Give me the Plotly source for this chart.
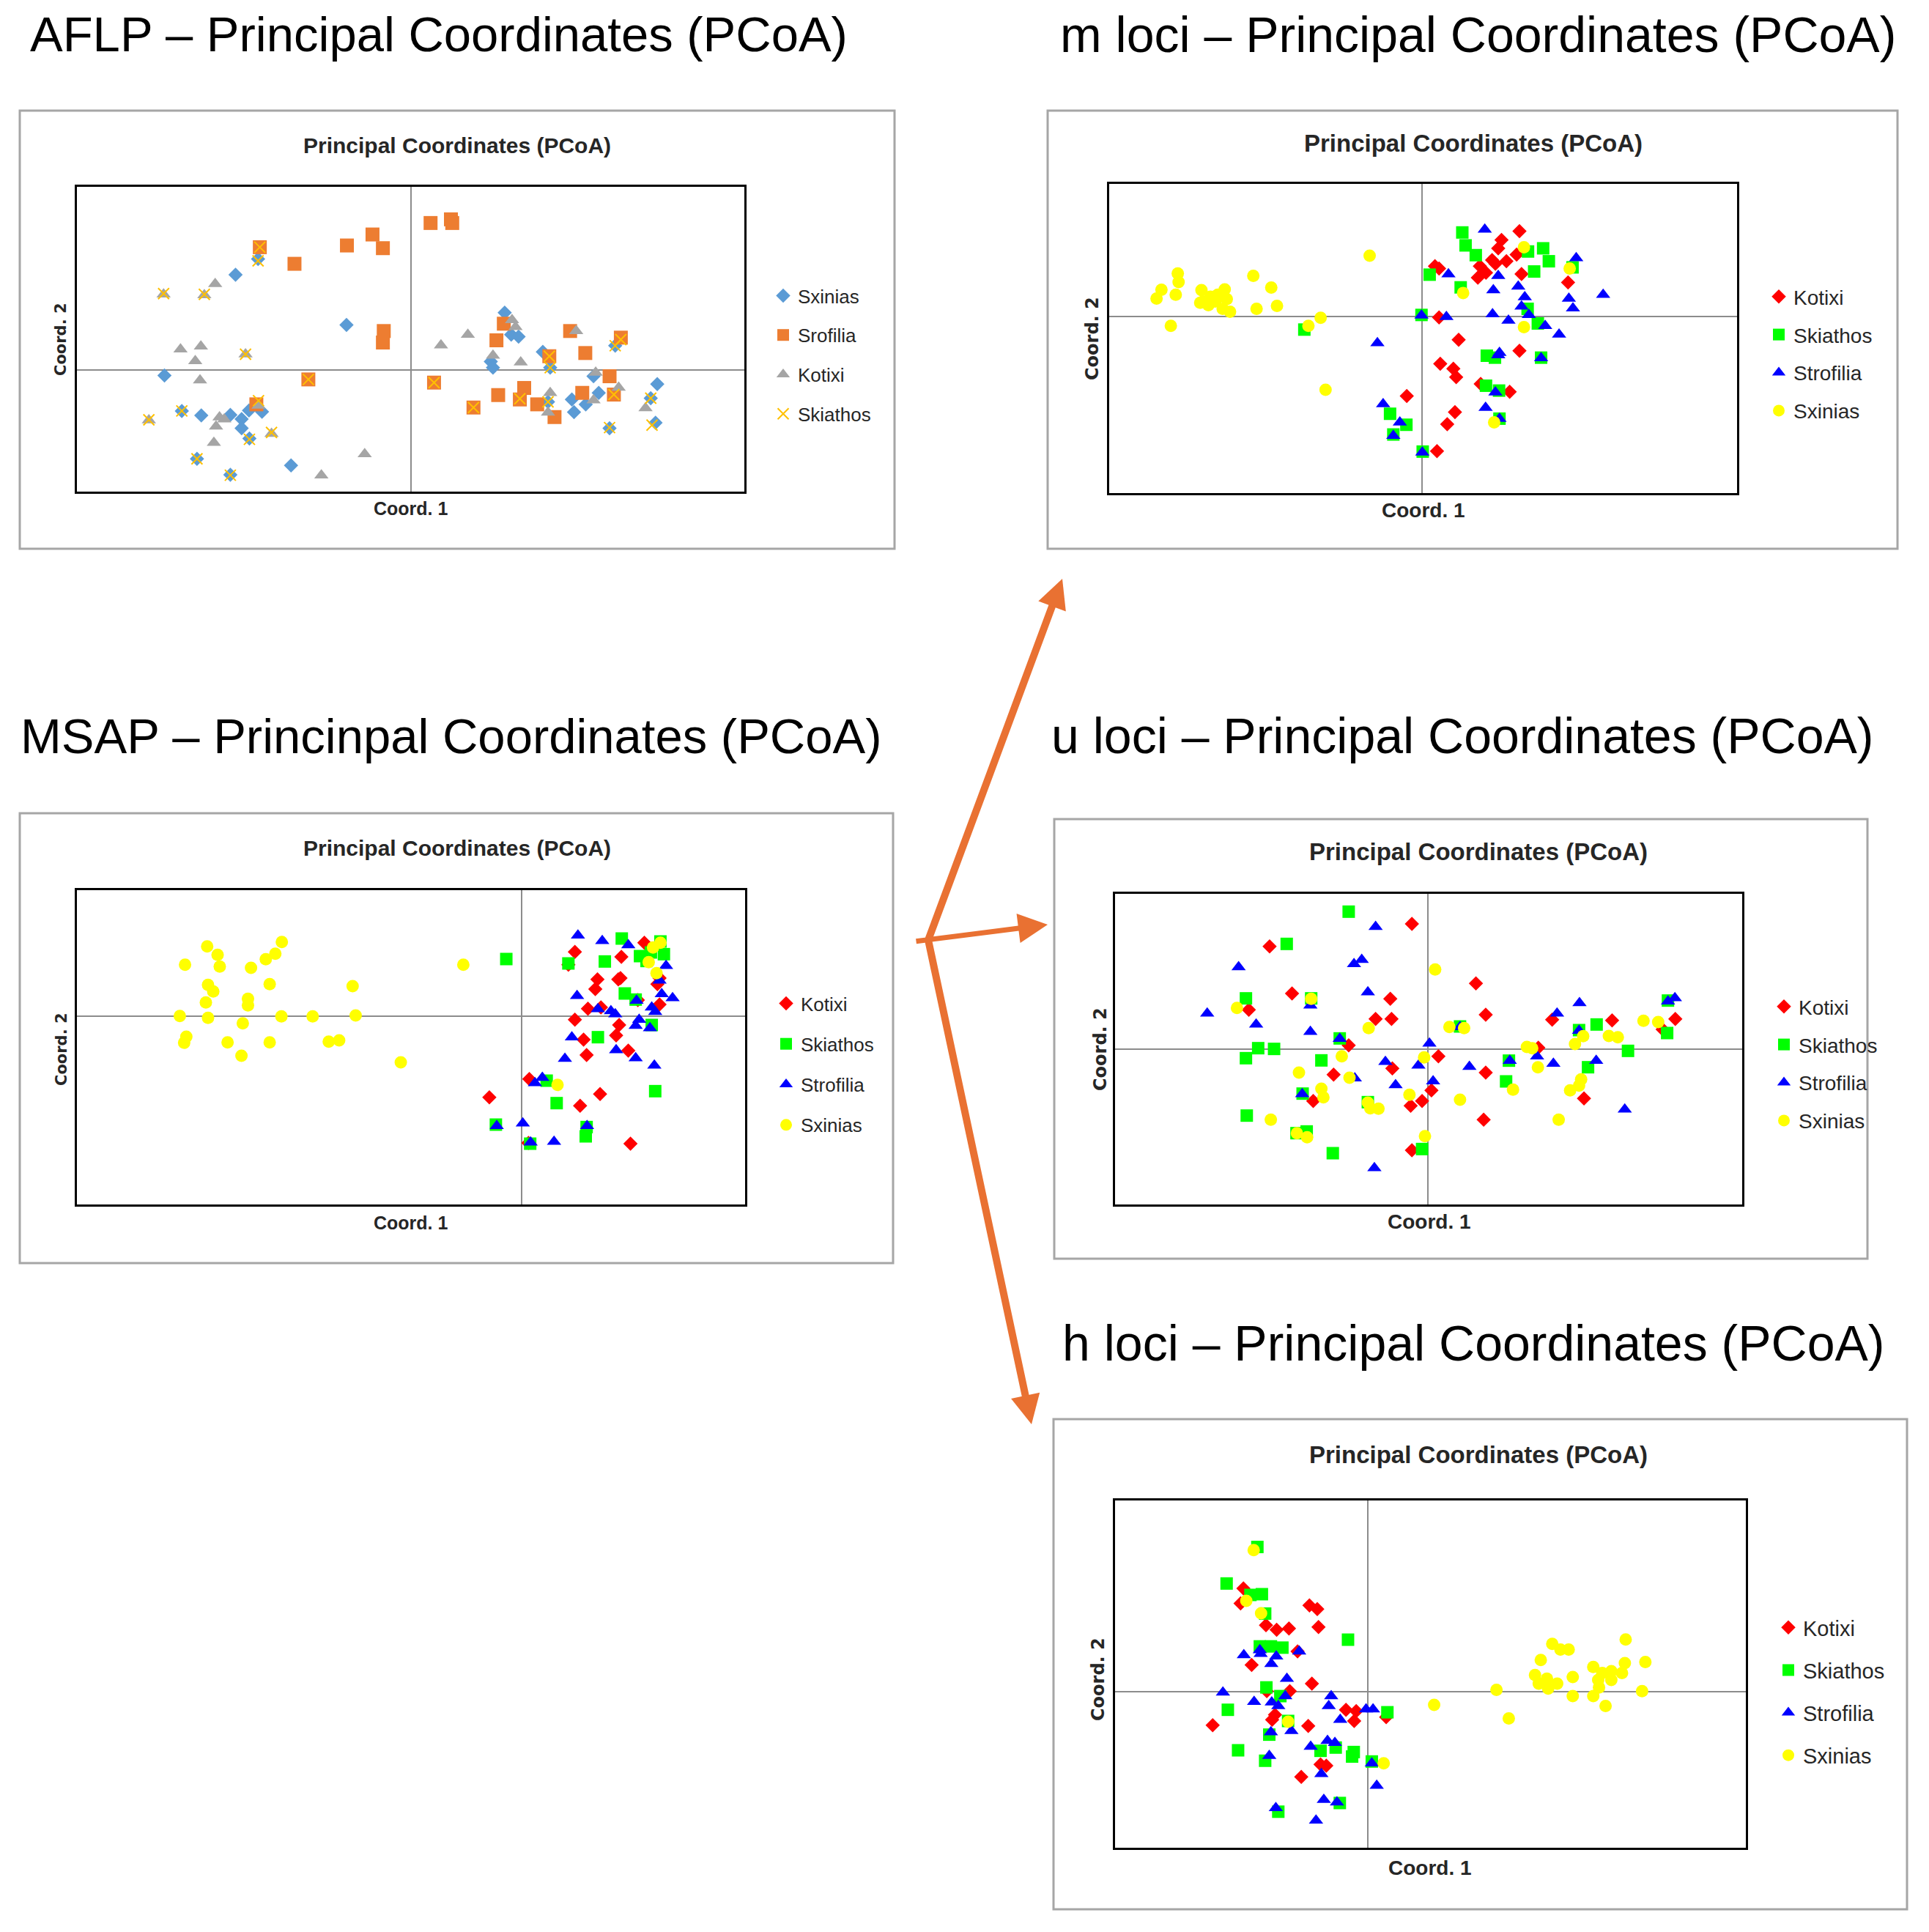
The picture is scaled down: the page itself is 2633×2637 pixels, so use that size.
import plotly.graph_objects as go

W, H = 2633, 2637

# ======================= DATA (Coord. 1, Coord. 2) =======================
# ---- AFLP ----
aflp_sxinias = [(-0.352,0.455),(-0.404,0.390),(-0.148,0.185),(-0.568,-0.022),(-0.528,-0.167),(-0.483,-0.185),
    (-0.416,-0.183),(-0.390,-0.200),(-0.373,-0.165),(-0.343,-0.170),(-0.390,-0.238),(-0.372,-0.280),(-0.493,-0.363),
    (-0.416,-0.428),(-0.276,-0.390),(0.217,0.235),(0.232,0.145),(0.249,0.137),(0.305,0.075),(0.185,0.035),(0.190,0.010),
    (0.322,0.010),(0.422,-0.025),(0.434,-0.093),(0.372,-0.120),(0.317,-0.130),(0.377,-0.172),(0.404,-0.140),(0.472,0.100),
    (0.569,-0.057),(0.554,-0.115),(0.565,-0.215),(0.459,-0.238)]
aflp_srofilia = [(0.046,0.602),(0.093,0.617),(0.096,0.602),(-0.088,0.555),(-0.064,0.499),(-0.147,0.510),(-0.348,0.503),
    (-0.268,0.435),(-0.062,0.160),(-0.064,0.113),(-0.236,-0.038),(-0.356,-0.140),(0.054,-0.051),(0.145,-0.153),(0.202,-0.102),
    (0.215,0.190),(0.198,0.122),(0.368,0.160),(0.485,0.133),(0.320,0.057),(0.403,0.070),(0.459,-0.025),(0.262,-0.073),
    (0.252,-0.120),(0.292,-0.140),(0.332,-0.192),(0.396,-0.093),(0.469,-0.100)]
aflp_kotixi = [(-0.570,0.310),(-0.476,0.307),(-0.451,0.353),(-0.531,0.085),(-0.484,0.097),(-0.497,0.037),(-0.381,0.065),
    (-0.486,-0.041),(-0.604,-0.205),(-0.441,-0.193),(-0.430,-0.201),(-0.449,-0.230),(-0.351,-0.145),(-0.321,-0.260),
    (-0.454,-0.297),(-0.106,-0.343),(-0.206,-0.430),(0.070,0.102),(0.132,0.145),(0.234,0.205),(0.242,0.177),(0.190,0.060),
    (0.254,0.032),(0.382,0.160),(0.427,-0.010),(0.322,-0.093),(0.317,-0.173),(0.422,-0.123),(0.480,-0.071),(0.542,-0.155)]
aflp_skiathos = [(-0.348,0.503),(-0.352,0.447),(-0.570,0.313),(-0.476,0.310),(-0.381,0.065),(-0.236,-0.038),(-0.528,-0.167),
    (-0.604,-0.203),(-0.351,-0.125),(-0.372,-0.283),(-0.321,-0.255),(-0.493,-0.363),(-0.416,-0.430),(0.054,-0.051),
    (0.145,-0.153),(0.252,-0.117),(0.320,0.057),(0.322,0.010),(0.317,-0.130),(0.469,-0.100),(0.485,0.125),(0.472,0.100),
    (0.554,-0.115),(0.557,-0.225),(0.459,-0.235)]

# ---- m loci ----
m_kotixi = [(0.238,0.348),(0.194,0.312),(0.186,0.278),(0.231,0.252),(0.171,0.230),(0.206,0.225),(0.179,0.215),(0.141,0.205),
    (0.156,0.178),(0.136,0.158),(0.031,0.205),(0.041,0.195),(0.243,0.173),(0.357,0.138),(0.041,-0.005),(0.089,-0.097),
    (0.238,-0.142),(0.044,-0.195),(0.076,-0.215),(0.083,-0.250),(0.143,-0.278),(0.214,-0.310),(-0.038,-0.327),(0.080,-0.393),
    (0.061,-0.443),(0.036,-0.553)]
m_skiathos = [(0.098,0.343),(0.106,0.290),(0.131,0.250),(0.296,0.278),(0.259,0.265),(0.310,0.225),(0.274,0.183),(0.368,0.200),
    (0.018,0.170),(0.094,0.118),(-0.002,0.005),(0.258,0.030),(0.283,-0.030),(-0.289,-0.055),(0.158,-0.162),(0.178,-0.170),
    (0.291,-0.170),(0.156,-0.285),(0.188,-0.305),(0.189,-0.420),(-0.079,-0.400),(-0.039,-0.445),(-0.071,-0.485),(0.001,-0.555)]
m_strofilia = [(0.153,0.355),(0.377,0.238),(0.064,0.172),(0.186,0.165),(0.174,0.107),(0.235,0.122),(0.251,0.078),(0.243,0.040),
    (0.359,0.072),(0.443,0.088),(0.369,0.032),(-0.002,0.003),(0.059,-0.003),(0.172,0.008),(0.211,-0.018),(0.261,0.005),
    (0.301,-0.040),(0.335,-0.075),(-0.110,-0.110),(0.189,-0.150),(0.186,-0.160),(0.291,-0.172),(0.179,-0.312),(0.155,-0.375),
    (0.189,-0.420),(-0.096,-0.360),(-0.055,-0.435),(-0.071,-0.490),(0.000,-0.558)]
m_sxinias = [(-0.129,0.248),(-0.599,0.175),(-0.597,0.140),(-0.639,0.108),(-0.651,0.072),(-0.604,0.088),(-0.541,0.107),
    (-0.537,0.060),(-0.519,0.080),(-0.524,0.045),(-0.501,0.088),(-0.484,0.110),(-0.479,0.070),(-0.489,0.030),(-0.471,0.018),
    (-0.414,0.165),(-0.370,0.117),(-0.356,0.042),(-0.406,0.030),(-0.616,-0.040),(-0.249,-0.007),(-0.279,-0.040),(-0.237,-0.302),
    (0.249,0.282),(0.361,0.195),(0.100,0.095),(0.249,-0.045),(0.176,-0.435),(-0.544,0.055),(-0.507,0.060)]

# ---- MSAP ----
msap_kotixi = [(0.123,0.262),(0.230,0.242),(0.283,0.300),(0.175,0.150),(0.223,0.150),(0.228,0.155),(0.170,0.110),(0.318,0.155),
    (0.313,0.130),(0.153,0.030),(0.183,0.035),(0.268,0.065),(0.318,0.047),(0.123,-0.015),(0.225,-0.037),(0.218,-0.080),
    (0.143,-0.097),(0.150,-0.160),(0.246,-0.142),(0.018,-0.258),(-0.074,-0.333),(0.181,-0.320),(0.135,-0.368),(0.251,-0.523),
    (0.108,0.210),(0.016,-0.520)]
msap_skiathos = [(-0.035,0.233),(0.108,0.215),(0.192,0.223),(0.231,0.317),(0.273,0.245),(0.298,0.260),(0.328,0.253),(0.320,0.305),
    (0.288,0.225),(0.238,0.092),(0.263,0.067),(0.300,-0.037),(0.176,-0.087),(0.058,-0.265),(0.081,-0.357),(0.308,-0.308),
    (-0.059,-0.445),(0.150,-0.455),(0.148,-0.493),(0.020,-0.523)]
msap_strofilia = [(0.130,0.330),(0.186,0.307),(0.246,0.290),(0.333,0.205),(0.318,0.145),(0.323,0.090),(0.348,0.073),(0.128,0.082),
    (0.176,0.028),(0.206,0.020),(0.216,0.007),(0.265,0.063),(0.300,0.035),(0.308,0.017),(0.271,-0.015),(0.263,-0.040),
    (0.296,-0.050),(0.116,-0.087),(0.218,-0.140),(0.263,-0.173),(0.306,-0.203),(0.100,-0.175),(0.048,-0.253),(0.031,-0.275),
    (-0.057,-0.450),(0.003,-0.440),(0.151,-0.450),(0.021,-0.518),(0.075,-0.515)]
msap_sxinias = [(-0.724,0.285),(-0.552,0.303),(-0.700,0.250),(-0.567,0.255),(-0.589,0.232),(-0.775,0.210),(-0.695,0.202),
    (-0.623,0.197),(-0.134,0.210),(-0.722,0.127),(-0.710,0.100),(-0.580,0.130),(-0.389,0.122),(-0.727,0.055),(-0.630,0.070),
    (-0.630,0.043),(-0.787,0.000),(-0.722,-0.008),(-0.553,-0.002),(-0.481,-0.002),(-0.382,0.002),(-0.642,-0.030),(-0.772,-0.085),
    (-0.777,-0.110),(-0.677,-0.108),(-0.580,-0.108),(-0.444,-0.105),(-0.420,-0.100),(-0.645,-0.163),(-0.278,-0.190),
    (0.083,-0.282),(0.320,0.300),(0.303,0.280),(0.293,0.220),(0.311,0.175)]

# ---- u loci ----
u_kotixi = [(-0.040,0.512),(-0.389,0.420),(0.117,0.268),(-0.334,0.227),(-0.093,0.205),(-0.440,0.160),(-0.129,0.123),(-0.090,0.123),
    (0.141,0.140),(0.304,0.120),(0.451,0.117),(0.606,0.123),(0.575,0.080),(-0.195,0.015),(0.270,0.005),(0.025,-0.030),
    (-0.088,-0.080),(-0.232,-0.105),(0.141,-0.097),(-0.282,-0.213),(0.008,-0.170),(-0.015,-0.213),(-0.043,-0.233),(0.382,-0.203),
    (0.136,-0.290),(-0.040,-0.415)]
u_skiathos = [(-0.195,0.562),(-0.347,0.430),(-0.447,0.207),(-0.287,0.207),(-0.417,0.003),(-0.378,0.000),(-0.447,-0.038),
    (-0.262,-0.047),(-0.217,0.043),(-0.445,-0.273),(-0.308,-0.183),(-0.148,-0.218),(-0.323,-0.345),(-0.298,-0.338),(-0.234,-0.427),
    (-0.015,-0.410),(0.078,0.092),(0.191,-0.133),(0.198,-0.048),(0.370,0.077),(0.413,0.100),(0.392,-0.075),(0.490,-0.008),
    (0.586,0.065),(0.588,0.198)]
u_strofilia = [(-0.129,0.500),(-0.465,0.335),(-0.182,0.348),(-0.163,0.365),(-0.148,0.232),(-0.542,0.145),(-0.422,0.100),
    (-0.289,0.178),(-0.289,0.070),(-0.217,0.042),(0.003,0.022),(-0.105,-0.053),(-0.024,-0.068),(-0.180,-0.120),(-0.080,-0.148),
    (0.012,-0.132),(0.101,-0.073),(0.200,-0.048),(0.267,-0.030),(0.307,-0.060),(0.412,-0.048),(0.316,0.145),(0.371,0.188),
    (0.370,0.075),(0.588,0.195),(0.605,0.208),(-0.309,-0.185),(0.482,-0.248),(-0.132,-0.488),(0.078,0.090)]
u_sxinias = [(0.017,0.325),(-0.287,0.205),(-0.469,0.168),(-0.146,0.085),(0.052,0.090),(0.088,0.085),(-0.212,-0.030),
    (-0.317,-0.097),(-0.193,-0.118),(-0.010,-0.035),(-0.262,-0.163),(-0.257,-0.198),(-0.046,-0.188),(-0.148,-0.220),
    (-0.142,-0.243),(-0.122,-0.245),(0.078,-0.208),(0.208,-0.167),(-0.386,-0.290),(-0.322,-0.345),(-0.297,-0.362),
    (-0.008,-0.357),(0.320,-0.290),(0.269,-0.075),(0.242,0.008),(0.255,0.003),(0.360,0.020),(0.380,0.052),(0.443,0.053),
    (0.465,0.048),(0.528,0.115),(0.564,0.110),(0.375,-0.125),(0.370,-0.150),(0.348,-0.170)]

# ---- h loci ----
h_kotixi = [(-0.303,0.415),(-0.310,0.355),(-0.142,0.347),(-0.123,0.332),(-0.248,0.267),(-0.222,0.249),(-0.192,0.254),
    (-0.120,0.260),(-0.171,0.162),(-0.283,0.107),(-0.136,0.032),(-0.190,0.002),(-0.246,0.002),(-0.226,-0.093),(-0.233,-0.113),
    (-0.378,-0.135),(-0.145,-0.138),(-0.053,-0.073),(-0.028,-0.078),(-0.033,-0.118),(0.045,-0.103),(-0.115,-0.293),
    (-0.101,-0.298),(-0.162,-0.343)]
h_skiathos = [(-0.269,0.582),(-0.344,0.435),(-0.286,0.389),(-0.258,0.392),(-0.250,0.314),(-0.263,0.182),(-0.236,0.182),
    (-0.208,0.177),(-0.048,0.209),(-0.247,0.017),(-0.341,-0.073),(-0.194,-0.118),(-0.240,-0.173),(-0.316,-0.236),(-0.250,-0.278),
    (-0.115,-0.238),(-0.078,-0.225),(-0.034,-0.243),(-0.038,-0.261),(0.010,-0.281),(0.048,-0.083),(-0.213,-0.018),
    (-0.068,-0.448),(-0.218,-0.483)]
h_strofilia = [(-0.302,0.147),(-0.263,0.167),(-0.261,0.152),(-0.223,0.142),(-0.167,0.162),(-0.235,0.112),(-0.197,0.052),
    (-0.353,-0.003),(-0.277,-0.041),(-0.234,-0.043),(-0.201,-0.018),(-0.218,-0.058),(-0.089,-0.018),(-0.095,-0.058),
    (-0.067,-0.113),(-0.004,-0.071),(0.013,-0.071),(-0.236,-0.163),(-0.186,-0.158),(-0.139,-0.221),(-0.098,-0.198),
    (-0.080,-0.206),(-0.240,-0.258),(0.010,-0.288),(-0.113,-0.331),(0.022,-0.378),(-0.107,-0.435),(-0.075,-0.445),
    (-0.224,-0.468),(-0.126,-0.518)]
h_sxinias = [(-0.278,0.569),(-0.296,0.365),(-0.260,0.315),(-0.194,-0.121),(0.039,-0.288),(0.162,-0.053),(0.314,0.007),
    (0.344,-0.108),(0.450,0.192),(0.470,0.169),(0.490,0.169),(0.422,0.127),(0.408,0.067),(0.437,0.052),(0.417,0.032),
    (0.462,0.032),(0.440,0.012),(0.500,0.059),(0.550,0.099),(0.594,0.082),(0.620,0.075),(0.627,0.115),(0.629,0.210),
    (0.677,0.119),(0.562,0.047),(0.594,0.047),(0.564,0.017),(0.500,-0.018),(0.550,-0.018),(0.580,-0.058),(0.669,0.002),
    (0.572,0.075)]

# axis ranges (Coord. 1, Coord. 2)
aflp_xrange, aflp_yrange = [-0.770, 0.770], [-0.497, 0.750]
m_xrange, m_yrange = [-0.767, 0.771], [-0.725, 0.542]
msap_xrange, msap_yrange = [-1.024, 0.515], [-0.772, 0.515]
u_xrange, u_yrange = [-0.768, 0.770], [-0.637, 0.635]
h_xrange, h_yrange = [-0.616, 0.922], [-0.628, 0.769]

# ======================= STYLE / LAYOUT =======================
def pxx(x):
    return x / W

def pyy(y):
    return 1 - y / H

AFLP_STY = {
    "Sxinias": dict(symbol="diamond", size=15, color="#5B9BD5"),
    "Srofilia": dict(symbol="square", size=19, color="#ED7D31"),
    "Kotixi": dict(symbol="triangle-up", size=17, color="#A5A5A5"),
    "Skiathos": dict(symbol="x-thin", size=15, color="#FFC000", line=dict(width=2, color="#FFC000")),
}
GEN_STY = {
    "Kotixi": dict(symbol="diamond", size=15, color="#FF0000"),
    "Skiathos": dict(symbol="square", size=17, color="#00FF00"),
    "Strofilia": dict(symbol="triangle-up", size=17, color="#0000FF"),
    "Sxinias": dict(symbol="circle", size=17, color="#FFFF00"),
}

panels = [
    dict(big="AFLP – Principal Coordinates (PCoA)", big_xy=(39, 47), bsize=67,
         box=(27, 151, 1221, 749), frame=(105, 255, 1016, 671),
         xr=aflp_xrange, yr=aflp_yrange, title_xy=(624, 198), tsize=30,
         c1_xy=(560, 694), c2_xy=(83, 463), lsize=26, leg_xy=(1071, 402), gap=17,
         series=[("Sxinias", aflp_sxinias), ("Srofilia", aflp_srofilia),
                 ("Kotixi", aflp_kotixi), ("Skiathos", aflp_skiathos)], sty=AFLP_STY),
    dict(big="m loci – Principal Coordinates (PCoA)", big_xy=(1445, 47), bsize=68,
         box=(1430, 151, 2590, 749), frame=(1514, 251, 2371, 673),
         xr=m_xrange, yr=m_yrange, title_xy=(2011, 196), tsize=33,
         c1_xy=(1943, 696), c2_xy=(1491, 462), lsize=28, leg_xy=(2430, 402), gap=12.5,
         series=[("Kotixi", m_kotixi), ("Skiathos", m_skiathos),
                 ("Strofilia", m_strofilia), ("Sxinias", m_sxinias)], sty=GEN_STY),
    dict(big="MSAP – Princinpal Coordinates (PCoA)", big_xy=(26, 1004), bsize=67,
         box=(27, 1110, 1219, 1724), frame=(105, 1215, 1017, 1644),
         xr=msap_xrange, yr=msap_yrange, title_xy=(624, 1158), tsize=30,
         c1_xy=(560, 1669), c2_xy=(84, 1432), lsize=26, leg_xy=(1075, 1368), gap=18.5,
         series=[("Kotixi", msap_kotixi), ("Skiathos", msap_skiathos),
                 ("Strofilia", msap_strofilia), ("Sxinias", msap_sxinias)], sty=GEN_STY),
    dict(big="u loci – Principal Coordinates (PCoA)", big_xy=(1433, 1004), bsize=68,
         box=(1439, 1118, 2549, 1718), frame=(1522, 1220, 2378, 1644),
         xr=u_xrange, yr=u_yrange, title_xy=(2018, 1163), tsize=33,
         c1_xy=(1951, 1667), c2_xy=(1502, 1432), lsize=28, leg_xy=(2437, 1371), gap=12.5,
         series=[("Kotixi", u_kotixi), ("Skiathos", u_skiathos),
                 ("Strofilia", u_strofilia), ("Sxinias", u_sxinias)], sty=GEN_STY),
    dict(big="h loci – Principal Coordinates (PCoA)", big_xy=(1448, 1833), bsize=68,
         box=(1438, 1937, 2603, 2606), frame=(1522, 2048, 2383, 2522),
         xr=h_xrange, yr=h_yrange, title_xy=(2018, 1986), tsize=33,
         c1_xy=(1952, 2549), c2_xy=(1499, 2292), lsize=29, leg_xy=(2443, 2218), gap=17.4,
         series=[("Kotixi", h_kotixi), ("Skiathos", h_skiathos),
                 ("Strofilia", h_strofilia), ("Sxinias", h_sxinias)], sty=GEN_STY),
]

fig = go.Figure()
layout = dict(width=W, height=H, margin=dict(l=0, r=0, t=0, b=0),
              paper_bgcolor="white", plot_bgcolor="white", showlegend=True)
annotations = []
shapes = []

TITLE_FONT = "Liberation Sans"

for i, p in enumerate(panels, start=1):
    sfx = "" if i == 1 else str(i)
    xref, yref = "x" + sfx, "y" + sfx
    legid = "legend" + sfx
    x0, y0, x1, y1 = p["frame"]
    layout["xaxis" + sfx] = dict(domain=[pxx(x0), pxx(x1)], range=p["xr"], anchor=yref,
                                 showticklabels=False, ticks="", showgrid=False,
                                 zeroline=True, zerolinecolor="#8C8C8C", zerolinewidth=2,
                                 showline=True, mirror=True, linecolor="black", linewidth=3,
                                 fixedrange=True)
    layout["yaxis" + sfx] = dict(domain=[pyy(y1), pyy(y0)], range=p["yr"], anchor=xref,
                                 showticklabels=False, ticks="", showgrid=False,
                                 zeroline=True, zerolinecolor="#8C8C8C", zerolinewidth=2,
                                 showline=True, mirror=True, linecolor="black", linewidth=3,
                                 fixedrange=True)
    for name, pts in p["series"]:
        st = dict(p["sty"][name])
        line = st.pop("line", dict(width=0))
        fig.add_trace(go.Scatter(
            x=[q[0] for q in pts], y=[q[1] for q in pts], mode="markers", name=name,
            xaxis=xref, yaxis=yref, legend=legid, legendgroup=f"{i}_{name}",
            marker=dict(symbol=st["symbol"], size=st["size"], color=st["color"], line=line),
            hoverinfo="skip"))
    lx, ly = p["leg_xy"]
    layout[legid] = dict(x=pxx(lx - 22), y=pyy(ly - 22), xanchor="left", yanchor="top",
                         bgcolor="rgba(0,0,0,0)", borderwidth=0, traceorder="grouped",
                         tracegroupgap=p["gap"], itemsizing="trace", itemwidth=30,
                         font=dict(family=TITLE_FONT, size=p["lsize"], color="#262626"))
    # outer chart box
    bx0, by0, bx1, by1 = p["box"]
    shapes.append(dict(type="rect", xref="paper", yref="paper", x0=pxx(bx0), x1=pxx(bx1),
                       y0=pyy(by1), y1=pyy(by0), line=dict(color="#A6A6A6", width=3),
                       fillcolor="rgba(0,0,0,0)", layer="below"))
    # big title
    annotations.append(dict(text=p["big"], x=pxx(p["big_xy"][0]), y=pyy(p["big_xy"][1]),
                            xref="paper", yref="paper", xanchor="left", yanchor="middle",
                            showarrow=False, font=dict(family=TITLE_FONT, size=p["bsize"], color="black")))
    # chart title
    annotations.append(dict(text="<b>Principal Coordinates (PCoA)</b>", x=pxx(p["title_xy"][0]),
                            y=pyy(p["title_xy"][1]), xref="paper", yref="paper",
                            xanchor="center", yanchor="middle", showarrow=False,
                            font=dict(family=TITLE_FONT, size=p["tsize"], color="#262626")))
    annotations.append(dict(text="<b>Coord. 1</b>", x=pxx(p["c1_xy"][0]), y=pyy(p["c1_xy"][1]),
                            xref="paper", yref="paper", xanchor="center", yanchor="middle",
                            showarrow=False,
                            font=dict(family=TITLE_FONT, size=p["tsize"] - 5, color="#262626")))
    annotations.append(dict(text="<b>Coord. 2</b>", x=pxx(p["c2_xy"][0]), y=pyy(p["c2_xy"][1]),
                            xref="paper", yref="paper", xanchor="center", yanchor="middle",
                            textangle=-90, showarrow=False,
                            font=dict(family="DejaVu Sans", size=p["tsize"] - 9, color="#262626")))

# orange arrows (tip, tail in page pixels)
arrows = [((1450, 790), (1267, 1283), 10, 0.8),
          ((1430, 1262), (1249, 1285), 7, 1.15),
          ((1408, 1944), (1267, 1283), 10, 0.8)]
for (tx, ty), (sx, sy), wdt, asz in arrows:
    annotations.append(dict(x=pxx(tx), y=pyy(ty), xref="paper", yref="paper", text="",
                            showarrow=True, ax=sx - tx, ay=sy - ty, axref="pixel", ayref="pixel",
                            arrowhead=2, arrowsize=asz, arrowwidth=wdt, arrowcolor="#E97132",
                            standoff=0, startstandoff=0))

layout["annotations"] = annotations
layout["shapes"] = shapes
fig.update_layout(**layout)

fig.write_html("out.html", config={"displayModeBar": False, "staticPlot": True},
               post_script="document.body.style.margin='0px';document.body.style.overflow='hidden';")
